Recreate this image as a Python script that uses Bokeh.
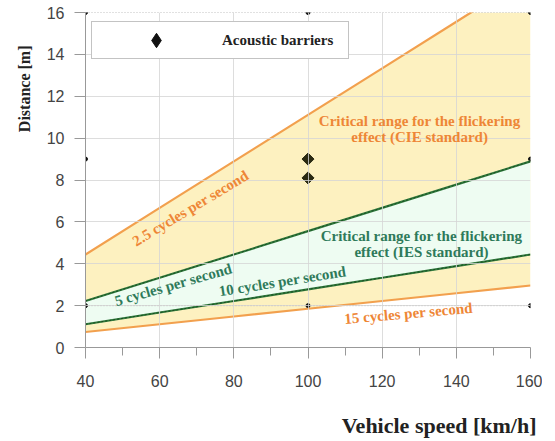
import numpy as np
from bokeh.plotting import figure
from bokeh.models import (Label, Legend, LegendItem, Title, FixedTicker, Range1d,
                          ColumnDataSource)
from bokeh.embed import file_html
from bokeh.resources import INLINE

# ---- data ----
speed = [40, 60, 80, 100, 120, 140, 160]          # km/h
d_2_5 = [4.44, 6.67, 8.89, 11.11, 13.33, 15.56, 17.78]
d_5 = [2.22, 3.33, 4.44, 5.56, 6.67, 7.78, 8.89]
d_10 = [1.11, 1.67, 2.22, 2.78, 3.33, 3.89, 4.44]
d_15 = [0.74, 1.11, 1.48, 1.85, 2.22, 2.59, 2.96]
# upper edge of the CIE range (2.5 cycles line, capped at the top of the chart)
cie_top_x = [160, 144, 40]
cie_top_y = [16, 16, 4.44]
barrier_x = [100, 100]
barrier_y = [9.0, 8.1]
x_ticks = [40, 60, 80, 100, 120, 140, 160]
x_minor = [50, 70, 90, 110, 130, 150]
y_ticks = [0, 2, 4, 6, 8, 10, 12, 14, 16]
ref_x = [40, 100, 160]
ref_top = [16, 16, 16]
ref_bot = [2, 2, 2]
ref_mid_x = [40, 160]
ref_mid = [9, 9]

ORANGE = "#f2a04e"
GREEN = "#2f7a3c"
ORANGE_T = "#ee8636"
GREEN_T = "#2e7a5a"
SERIF = "Liberation Serif"
SANS = "Liberation Sans"

p = figure(frame_width=445, frame_height=335, output_backend="svg", toolbar_location=None,
           x_range=Range1d(40, 160), y_range=Range1d(0, 16),
           min_border_left=85, min_border_right=12, min_border_top=12, min_border_bottom=0)
p.outline_line_color = None
p.background_fill_color = "white"

src = ColumnDataSource(data=dict(x=barrier_x, y=barrier_y))
# legend glyph renderer (drawn underneath the shaded area, so only its legend swatch shows)
leg_r = p.scatter("x", "y", source=src, marker="diamond", size=16,
                  color="#111111", level="underlay")

# fills
p.patch(x=speed + cie_top_x, y=d_15 + cie_top_y, fill_color="#fdf1c0",
        line_color=None)
p.varea(x=speed, y1=d_10, y2=d_5, fill_color="#eefcf2", fill_alpha=1.0)

# grid
p.xgrid.ticker = FixedTicker(ticks=x_ticks)
p.ygrid.ticker = FixedTicker(ticks=y_ticks)
p.xgrid.grid_line_color = "#d4d4d4"
p.ygrid.grid_line_color = "#d4d4d4"
p.xgrid.level = "glyph"
p.ygrid.level = "glyph"
p.xgrid.grid_line_alpha = 0.8
p.ygrid.grid_line_alpha = 0.8

# dotted reference lines
p.line(ref_x, ref_top, line_color="#888888", line_dash="1 2", line_width=1)
p.line(ref_x, ref_bot, line_color="#888888", line_dash="1 2", line_width=1)
p.scatter(ref_x, ref_top, size=4, color="#111111")
p.scatter(ref_x, ref_bot, size=4, color="#111111")
p.scatter(ref_mid_x, ref_mid, size=4, color="#111111")

# frequency lines
p.line(speed, d_2_5, line_color=ORANGE, line_width=2.2)
p.line(speed, d_15, line_color=ORANGE, line_width=2.2)
p.line(speed, d_5, line_color=GREEN, line_width=2.2)
p.line(speed, d_10, line_color=GREEN, line_width=2.2)
p.line(speed, d_5, line_color="#1c4a22", line_width=1, line_dash="2 2")
p.line(speed, d_10, line_color="#1c4a22", line_width=1, line_dash="2 2")

# barriers
p.scatter("x", "y", source=src, marker="square", angle=np.pi / 4, size=8.5,
          color="#2a2a12")

legend = Legend(items=[LegendItem(label="Acoustic barriers", renderers=[leg_r])],
                location=(6, 288), margin=0, padding=0, glyph_width=128,
                glyph_height=36, label_standoff=2, label_width=126, spacing=0,
                border_line_color="#888888", border_line_width=1.5,
                label_text_font=SERIF, label_text_font_style="bold",
                label_text_font_size="15px", label_text_color="#222222",
                background_fill_alpha=1.0)
p.add_layout(legend)

# annotations
def lab(x, y, t, color, angle=0.0, size="15px"):
    p.add_layout(Label(x=x, y=y, text=t, text_color=color, angle=angle,
                       angle_units="deg", text_font=SERIF, text_font_style="bold",
                       text_font_size=size, text_align="center",
                       text_baseline="middle"))

lab(130.1, 10.8, "Critical range for the flickering", ORANGE_T)
lab(130.1, 10.05, "effect (CIE standard)", ORANGE_T)
lab(130.6, 5.31, "Critical range for the flickering", GREEN_T)
lab(130.6, 4.55, "effect (IES standard)", GREEN_T)
lab(68.3, 6.65, "2.5 cycles per second", ORANGE_T, angle=31)
lab(63.7, 3.0, "5 cycles per second", GREEN_T, angle=16)
lab(93.1, 3.16, "10 cycles per second", GREEN_T, angle=9)
lab(127.1, 1.63, "15 cycles per second", ORANGE_T, angle=5)

# axes
p.xaxis.ticker = FixedTicker(ticks=x_ticks, minor_ticks=x_minor)
p.yaxis.ticker = FixedTicker(ticks=y_ticks)
for ax in (p.xaxis, p.yaxis):
    ax.axis_line_color = "#999999"
    ax.major_tick_line_color = "#999999"
    ax.minor_tick_line_color = "#999999"
    ax.major_tick_out = 11
    ax.major_tick_in = 0
    ax.minor_tick_in = 0
    ax.major_label_text_font = SANS
    ax.major_label_text_font_size = "16px"
    ax.major_label_text_color = "#444444"
p.xaxis.minor_tick_out = 8
p.yaxis.minor_tick_out = 0
p.xaxis.major_label_standoff = 16
p.yaxis.major_label_standoff = 10

xt = Title(text="Vehicle speed [km/h]", align="right", offset=-6, text_font=SERIF,
           text_font_style="bold", text_font_size="22px", text_color="#222222",
           standoff=42)
p.add_layout(xt, "below")
yt = Title(text="Distance [m]", align="right", offset=33, text_font=SERIF,
           text_font_style="bold", text_font_size="16px", text_color="#222222",
           standoff=22)
p.add_layout(yt, "left")

open("out.html", "w").write(file_html(p, INLINE))
